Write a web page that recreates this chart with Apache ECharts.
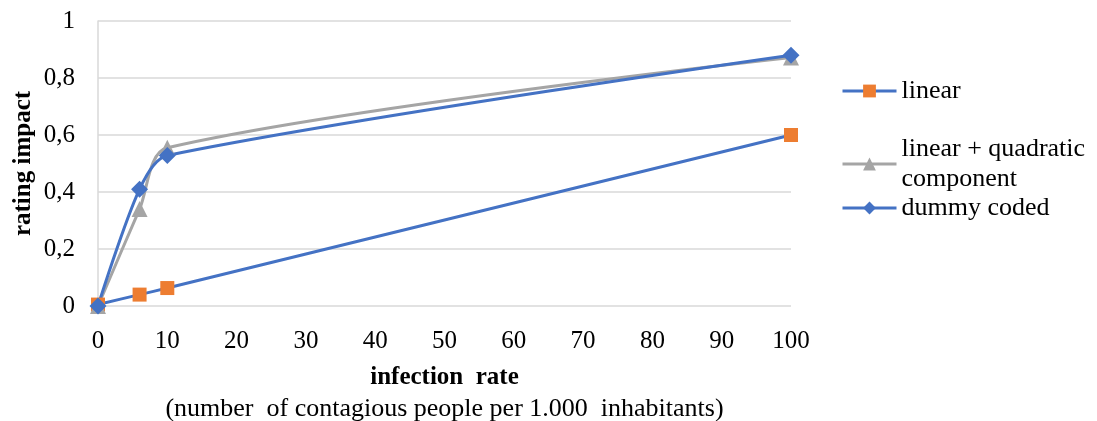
<!DOCTYPE html>
<html>
<head>
<meta charset="utf-8">
<script src="https://cdn.jsdelivr.net/npm/echarts@6/dist/echarts.min.js"></script>
<style>
  html, body { margin: 0; padding: 0; background: #fff; }
  #chart { width: 1097px; height: 421px; }
</style>
</head>
<body>
<div id="chart"></div>
<script>
// Infection rate (contagious people per 1.000 inhabitants)
const infectionRates = [0, 6, 10, 100];
// Rating impact estimated by each model
const linearImpact = [0.005, 0.04, 0.063, 0.6];
const quadraticImpact = [0, 0.34, 0.555, 0.872];
const dummyImpact = [0, 0.41, 0.528, 0.88];

const seriesNames = ['linear', 'linear + quadratic component', 'dummy coded'];
const yTicks = ['0', '0,2', '0,4', '0,6', '0,8', '1'];

const FONT = '"Liberation Serif", "DejaVu Serif", serif';
const BLUE = '#4472C4', ORANGE = '#ED7D31', GRAY = '#A5A5A5', GRID = '#D9D9D9';

const pairs = vals => infectionRates.map((x, i) => [x, vals[i]]);

const chart = echarts.init(document.getElementById('chart'), null, { renderer: 'canvas' });

const legendBase = {
  orient: 'vertical',
  left: 836,
  itemWidth: 54,
  itemHeight: 16,
  itemGap: 0,
  lineStyle: { width: 3 },
  textStyle: { fontFamily: FONT, fontSize: 26, color: '#000' }
};

chart.setOption({
  animation: false,
  grid: {
    left: 98, right: 306, top: 21, bottom: 115,
    containLabel: false,
    outerBoundsMode: 'none'
  },
  xAxis: {
    type: 'value',
    min: 0, max: 100, interval: 10,
    axisLine: { show: false },
    axisTick: { show: false },
    splitLine: { show: false },
    axisLabel: { fontFamily: FONT, fontSize: 25, color: '#000', margin: 23 },
    name: '{b|infection  rate}\n{n|(number  of contagious people per 1.000  inhabitants)}',
    nameLocation: 'middle',
    nameGap: 56,
    nameMoveOverlap: false,
    nameTextStyle: {
      fontFamily: FONT, color: '#000',
      rich: {
        b: { fontFamily: FONT, fontSize: 25, fontWeight: 'bold', color: '#000', lineHeight: 32 },
        n: { fontFamily: FONT, fontSize: 26, color: '#000', lineHeight: 30 }
      }
    }
  },
  yAxis: {
    type: 'value',
    min: 0, max: 1, interval: 0.2,
    axisLine: { show: true, lineStyle: { color: GRID, width: 1.5 } },
    axisTick: { show: false },
    splitLine: { lineStyle: { color: GRID, width: 1.5 } },
    axisLabel: {
      fontFamily: FONT, fontSize: 25, color: '#000', margin: 23,
      formatter: v => yTicks[Math.round(v / 0.2)]
    },
    name: 'rating impact',
    nameLocation: 'middle',
    nameGap: 62,
    nameMoveOverlap: false,
    nameTextStyle: { fontFamily: FONT, fontSize: 25, fontWeight: 'bold', color: '#000' }
  },
  legend: [
    Object.assign({}, legendBase, { data: [seriesNames[0]], top: 73 }),
    Object.assign({}, legendBase, {
      data: [seriesNames[1]], top: 114,
      formatter: () => 'linear + quadratic\ncomponent',
      textStyle: { fontFamily: FONT, fontSize: 26, color: '#000', lineHeight: 30, padding: [30, 0, 0, 0] }
    }),
    Object.assign({}, legendBase, { data: [seriesNames[2]], top: 190 })
  ],
  series: [
    {
      name: seriesNames[0], type: 'line', data: pairs(linearImpact),
      smooth: 0.3,
      symbol: 'rect', symbolSize: 14,
      lineStyle: { color: BLUE, width: 3 },
      itemStyle: { color: ORANGE }
    },
    {
      name: seriesNames[1], type: 'line', data: pairs(quadraticImpact),
      smooth: 0.3,
      symbol: 'triangle', symbolSize: 16,
      lineStyle: { color: GRAY, width: 3 },
      itemStyle: { color: GRAY }
    },
    {
      name: seriesNames[2], type: 'line', data: pairs(dummyImpact),
      smooth: 0.3,
      symbol: 'diamond', symbolSize: 17,
      lineStyle: { color: BLUE, width: 3 },
      itemStyle: { color: BLUE }
    }
  ]
});
</script>
</body>
</html>
